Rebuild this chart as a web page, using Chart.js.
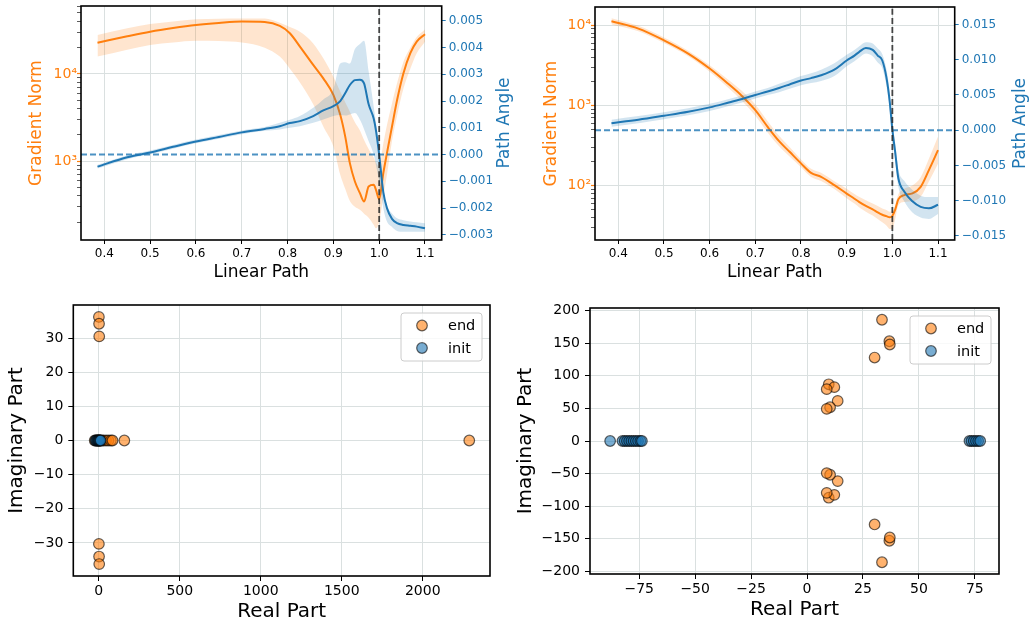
<!DOCTYPE html>
<html>
<head>
<meta charset="utf-8">
<script src="https://cdn.jsdelivr.net/npm/chart.js"></script>
<style>
    body { margin: 0; background: #fff; }
    #wrap { position: relative; width: 1036px; height: 626px; overflow: hidden; }
    canvas { position: absolute; }
</style>
</head>
<body>
<div id="wrap">
    <canvas id="path1" width="520" height="290" style="left:0;top:0"></canvas>
    <canvas id="path2" width="518" height="290" style="left:518px;top:0"></canvas>
    <canvas id="eig1" width="518" height="336" style="left:0;top:290px"></canvas>
    <canvas id="eig2" width="530" height="336" style="left:506px;top:290px"></canvas>
</div>
<script>
// top left: gradient norm / path angle along the linear path
const path1X = [0.385, 0.45, 0.5, 0.55, 0.6, 0.65, 0.7, 0.75, 0.783, 0.805, 0.827, 0.856, 0.878, 0.9, 0.915, 0.926,
    0.936, 0.947, 0.958, 0.967, 0.977, 0.988, 0.993, 1.0, 1.009, 1.017, 1.028, 1.039, 1.053, 1.068, 1.082, 1.1];
const path1Grad = [22800, 27000, 30500, 33600, 36400, 38400, 39800, 39300, 35500, 29300, 20600, 12700, 8900, 5750, 3400, 1900,
    950, 585, 430, 345, 513, 536, 470, 367, 730, 1240, 2500, 5000, 10200, 17300, 23500, 28500];
const path1GradHi = [28000, 33500, 37400, 40000, 42300, 43000, 43300, 43300, 38700, 34500, 30500, 22400, 15100, 9300, 6300, 4700,
    3700, 2800, 2250, 1750, 1380, 1100, 960, 870, 1600, 2600, 4600, 7800, 13800, 20000, 26500, 32400];
const path1GradLo = [15800, 19000, 21500, 23000, 24100, 23800, 22900, 20000, 15800, 11500, 8000, 4500, 2500, 1470, 700, 480,
    350, 300, 277, 250, 225, 187, 170, 200, 394, 700, 1700, 3300, 6800, 11500, 17300, 23400];
const path1Angle = [-0.00045, -0.0001, 0.00008, 0.00029, 0.00049, 0.00066, 0.00083, 0.00096, 0.00106, 0.00118, 0.00125, 0.00144,
    0.00165, 0.00181, 0.002, 0.0023, 0.0026, 0.00278, 0.0028, 0.00266, 0.00188, 0.00135, 0.0009, 0, -0.0014, -0.002,
    -0.0024, -0.00256, -0.00263, -0.00266, -0.00269, -0.00275];
const path1AngleHi = [-0.00038, -0.00003, 0.00015, 0.00036, 0.00056, 0.00073, 0.0009, 0.00103, 0.00119, 0.0013, 0.00144, 0.00175,
    0.00206, 0.00244, 0.0034, 0.00345, 0.0034, 0.00394, 0.00413, 0.00425, 0.0031, 0.0018, 0.0012, 0.00025, -0.00125, -0.0019,
    -0.0022, -0.00238, -0.00245, -0.0025, -0.00253, -0.00256];
const path1AngleLo = [-0.00052, -0.00017, 0.00001, 0.00022, 0.00042, 0.00059, 0.00076, 0.00089, 0.00094, 0.001, 0.00106, 0.00119,
    0.00131, 0.00144, 0.00148, 0.00146, 0.0015, 0.00155, 0.0013, 0.00095, 0.0005, 0, -0.0004, -0.001, -0.002, -0.0025,
    -0.0027, -0.00285, -0.00288, -0.00288, -0.00288, -0.00288];

// top right
const path2X = [0.385, 0.444, 0.5, 0.553, 0.6, 0.64, 0.669, 0.7, 0.727, 0.752, 0.775, 0.8, 0.822, 0.844, 0.873, 0.9, 0.917,
    0.927, 0.942, 0.957, 0.968, 0.978, 0.987, 0.994, 1.0, 1.006, 1.013, 1.026, 1.044, 1.062, 1.08, 1.1];
const path2Grad = [11200, 9100, 6500, 4440, 2890, 1880, 1345, 875, 542, 360, 265, 190, 145, 129, 102, 80, 69,
    63, 56, 50.7, 46.5, 43.5, 41.8, 40.5, 42, 50, 67.6, 76.6, 80.3, 97, 157, 278];
const path2GradHi = [12280, 9860, 7040, 4810, 3170, 2110, 1545, 1028, 637, 419, 304, 213, 163, 145, 114, 92, 79,
    73, 66, 60, 56, 52, 50, 47.5, 48, 57, 78, 92, 101, 128, 217, 411];
const path2GradLo = [10200, 8400, 6000, 4100, 2630, 1680, 1170, 745, 461, 310, 231, 170, 129, 115, 91, 70, 60,
    54, 47.5, 42.5, 38.5, 35, 32, 29, 29, 38, 57, 63, 64, 73, 113, 188];
const path2Angle = [0.001, 0.00148, 0.00205, 0.00262, 0.00324, 0.0039, 0.0044, 0.005, 0.0055, 0.006, 0.0065, 0.00705,
    0.0074, 0.0078, 0.0086, 0.0099, 0.0106, 0.0111, 0.01167, 0.0114, 0.0106, 0.0099, 0.0075, 0.0042, 0.0001, -0.003,
    -0.0068, -0.0087, -0.0101, -0.0109, -0.0111, -0.0106];
const path2AngleHi = [0.0015, 0.002, 0.00255, 0.00312, 0.00374, 0.0044, 0.0049, 0.0055, 0.006, 0.0066, 0.0071, 0.0077,
    0.0081, 0.0086, 0.0095, 0.0107, 0.0114, 0.0119, 0.0125, 0.0123, 0.0116, 0.0108, 0.0087, 0.0055, 0.0012, -0.0018,
    -0.0055, -0.0072, -0.0085, -0.0093, -0.0095, -0.0095];
const path2AngleLo = [0.0005, 0.001, 0.00155, 0.00212, 0.00274, 0.0034, 0.0039, 0.0045, 0.005, 0.0054, 0.0059, 0.0064,
    0.0067, 0.007, 0.0077, 0.0091, 0.0098, 0.0103, 0.0109, 0.0105, 0.0096, 0.0088, 0.0063, 0.003, -0.001, -0.0042,
    -0.008, -0.0101, -0.0117, -0.0124, -0.0126, -0.0119];

// bottom left: eigenvalues
const eig1EndRe = [-25, -15, -5, 2, 10, 20, 30, 45, 60, 75, 85, 158, 2287, 1, 2, 3, 1, 2, 3];
const eig1EndIm = [0, 0, 0, 0, 0, 0, 0, 0, 0, 0, 0, 0, 0, 36.2, 34.2, 30.5, -30.3, -34.0, -36.2];
const eig1InitRe = [-20, -14, -8, -4, 0, 4, 8, 12];
const eig1InitIm = [0, 0, 0, 0, 0, 0, 0, 0];

// bottom right
const eig2EndRe = [33.5, 36.8, 37.0, 30.2, 9.7, 12.2, 8.8, 13.7, 10.3, 8.8,
    33.5, 36.8, 37.0, 30.2, 9.7, 12.2, 8.8, 13.7, 10.3, 8.8];
const eig2EndIm = [186, 153, 148, 128, 87, 82.6, 79.5, 61.5, 51.8, 49.2,
    -186, -153, -148, -128, -87, -82.6, -79.5, -61.5, -51.8, -49.2];
const eig2InitRe = [-88, -82.5, -81.5, -80.5, -79.5, -78.5, -77.5, -76.5, -75.5, -74.5, -73.8,
    72.6, 73.5, 74.5, 75.5, 76.5, 77.4];
const eig2InitIm = [0, 0, 0, 0, 0, 0, 0, 0, 0, 0, 0, 0, 0, 0, 0, 0, 0];

const boundaryX = 1.0;

const orange = '#ff7f0e';
const blue = '#1f77b4';
const gridColor = '#dae0e0';
const sup = { '1': '¹', '2': '²', '3': '³', '4': '⁴', '5': '⁵' };

Chart.defaults.font.family = 'DejaVu Sans';
Chart.defaults.color = '#000';

// pin axis sizes so the plot areas land where the reference has them
const fixW = w => s => { s.width = w; s.paddingTop = 0; s.paddingBottom = 0; };
const fixH = h => s => { s.height = h; s.paddingLeft = 0; s.paddingRight = 0; };
const minus = s => s.replace('-', '\u2212');

// plain multiples of step inside the axis range
const stepTicks = step => s => {
    const ticks = [];
    for (let k = Math.ceil(s.min / step - 1e-9); k * step <= s.max + 1e-12; k++) ticks.push({ value: k * step });
    s.ticks = ticks;
};

function logTicks(scale) {
    const ticks = [];
    for (let e = 0; e <= 5; e++) {
        for (let m = 1; m <= 9; m++) {
            const v = m * Math.pow(10, e);
            if (v >= scale.min && v <= scale.max) ticks.push({ value: v, major: m === 1 });
        }
    }
    scale.ticks = ticks;
}

const frame = {
    id: 'frame',
    afterDatasetsDraw(chart) {
        const { ctx, chartArea: a } = chart;
        ctx.save();
        ctx.strokeStyle = '#000';
        ctx.lineWidth = 1.6;
        ctx.strokeRect(a.left, a.top, a.right - a.left, a.bottom - a.top);
        ctx.restore();
    }
};

// right hand axis title, reading bottom to top like the left one
const sideTitle = {
    id: 'sideTitle',
    afterDraw(chart, args, o) {
        if (!o.text) return;
        const { ctx, chartArea: a } = chart;
        ctx.save();
        ctx.translate(chart.width - o.offset, (a.top + a.bottom) / 2);
        ctx.rotate(-Math.PI / 2);
        ctx.font = o.size + 'px "DejaVu Sans"';
        ctx.fillStyle = o.color;
        ctx.textAlign = 'center';
        ctx.textBaseline = 'middle';
        ctx.fillText(o.text, 0, 0);
        ctx.restore();
    }
};

const pointLegend = {
    id: 'pointLegend',
    afterDraw(chart) {
        const { ctx, chartArea: a } = chart;
        const w = 81, h = 48;
        const x = a.right - 8 - w, y = a.top + 8;
        ctx.save();
        ctx.beginPath();
        ctx.roundRect(x, y, w, h, 3);
        ctx.fillStyle = 'rgba(255,255,255,0.8)';
        ctx.fill();
        ctx.strokeStyle = '#cccccc';
        ctx.lineWidth = 1;
        ctx.stroke();
        chart.data.datasets.forEach((ds, i) => {
            const cy = y + 12.5 + i * 22.5;
            ctx.beginPath();
            ctx.arc(x + 21, cy, ds.pointRadius, 0, Math.PI * 2);
            ctx.fillStyle = ds.backgroundColor;
            ctx.fill();
            ctx.lineWidth = ds.borderWidth;
            ctx.strokeStyle = ds.borderColor;
            ctx.stroke();
            ctx.fillStyle = '#000';
            ctx.font = '14.5px "DejaVu Sans"';
            ctx.textBaseline = 'middle';
            ctx.fillText(ds.label, x + 47, cy + 1);
        });
        ctx.restore();
    }
};

function pathChart(id, d) {
    const pts = ys => d.x.map((x, i) => ({ x, y: ys[i] }));
    const clear = 'rgba(0,0,0,0)';
    return new Chart(document.getElementById(id), {
        type: 'line',
        data: {
            datasets: [
                { data: [{ x: boundaryX, y: d.aMin }, { x: boundaryX, y: d.aMax }], yAxisID: 'y1',
                    borderColor: 'rgba(40,40,40,0.85)', borderWidth: 1.8, borderDash: [6, 3], order: 0 },
                { data: [{ x: d.xMin, y: 0 }, { x: d.xMax, y: 0 }], yAxisID: 'y1',
                    borderColor: 'rgba(31,119,180,0.8)', borderWidth: 2, borderDash: [6, 3], order: 1 },
                { data: pts(d.angle), yAxisID: 'y1', borderColor: blue, borderWidth: 2, order: 2 },
                { data: pts(d.angleHi), yAxisID: 'y1', borderColor: clear, borderWidth: 1,
                    backgroundColor: 'rgba(31,119,180,0.2)', fill: 4, order: 3 },
                { data: pts(d.angleLo), yAxisID: 'y1', borderColor: clear, borderWidth: 1, order: 4 },
                { data: pts(d.grad), yAxisID: 'y', borderColor: orange, borderWidth: 2, order: 5 },
                { data: pts(d.gradHi), yAxisID: 'y', borderColor: clear, borderWidth: 1,
                    backgroundColor: 'rgba(255,127,14,0.2)', fill: 7, order: 6 },
                { data: pts(d.gradLo), yAxisID: 'y', borderColor: clear, borderWidth: 1, order: 7 }
            ]
        },
        options: {
            responsive: false,
            animation: false,
            layout: { padding: d.pad },
            elements: { point: { radius: 0 }, line: { cubicInterpolationMode: 'monotone' } },
            plugins: {
                legend: { display: false },
                tooltip: { enabled: false },
                sideTitle: { text: 'Path Angle', color: blue, size: 17, offset: 15 }
            },
            scales: {
                x: {
                    type: 'linear', min: d.xMin, max: d.xMax,
                    border: { display: false },
                    afterBuildTicks: stepTicks(0.1),
                    grid: { color: gridColor, tickColor: '#000', tickLength: 4 },
                    ticks: { maxRotation: 0, padding: 3, font: { size: 12 }, color: '#000', callback: v => v.toFixed(1) },
                    title: { display: true, text: 'Linear Path', font: { size: 17 }, color: '#000', padding: { top: 0, bottom: 4 } },
                    afterFit: fixH(47)
                },
                y: {
                    type: 'logarithmic', position: 'left', min: d.gMin, max: d.gMax,
                    border: { display: false },
                    afterBuildTicks: logTicks,
                    grid: {
                        color: c => c.tick && c.tick.major ? gridColor : clear,
                        tickColor: c => c.tick && c.tick.major ? orange : '#333',
                        tickWidth: c => c.tick && c.tick.major ? 1.2 : 0.8,
                        tickLength: 4
                    },
                    ticks: {
                        autoSkip: false, padding: 0, font: { size: 14 }, color: orange,
                        callback: (v, i, t) => t[i].major ? '10' + sup[Math.round(Math.log10(v))] : ''
                    },
                    title: { display: true, text: 'Gradient Norm', font: { size: 17 }, color: orange },
                    afterFit: fixW(d.yW)
                },
                y1: {
                    type: 'linear', position: 'right', min: d.aMin, max: d.aMax,
                    border: { display: false },
                    afterBuildTicks: stepTicks(d.aStep),
                    grid: { drawOnChartArea: false, tickColor: blue, tickLength: 4 },
                    ticks: {
                        padding: 3, font: { size: 12 }, color: blue,
                        callback: v => minus((Math.abs(v) < 1e-12 ? 0 : v).toFixed(3))
                    },
                    afterFit: fixW(d.y1W)
                }
            }
        },
        plugins: [frame, sideTitle]
    });
}

function eigChart(id, d) {
    const pts = (re, im) => re.map((x, i) => ({ x, y: im[i] }));
    const fmt = v => minus(String(Math.round(v)));
    return new Chart(document.getElementById(id), {
        type: 'scatter',
        data: {
            datasets: [
                { label: 'end', data: pts(d.endRe, d.endIm), backgroundColor: 'rgba(255,127,14,0.6)',
                    borderColor: 'rgba(0,0,0,0.6)', borderWidth: 1.2, pointRadius: 5.3, order: 2 },
                { label: 'init', data: pts(d.initRe, d.initIm), backgroundColor: 'rgba(31,119,180,0.6)',
                    borderColor: 'rgba(0,0,0,0.6)', borderWidth: 1.2, pointRadius: 5.3, order: 1 }
            ]
        },
        options: {
            responsive: false,
            animation: false,
            layout: { padding: d.pad },
            plugins: { legend: { display: false }, tooltip: { enabled: false } },
            scales: {
                x: {
                    min: d.xMin, max: d.xMax,
                    border: { display: false },
                    afterBuildTicks: stepTicks(d.xStep),
                    grid: { color: gridColor, tickColor: '#000', tickLength: 5 },
                    ticks: { maxRotation: 0, padding: 2, font: { size: 14 }, callback: fmt },
                    title: { display: true, text: 'Real Part', font: { size: 20 }, padding: { top: 0, bottom: d.titlePad } },
                    afterFit: fixH(d.xH)
                },
                y: {
                    min: d.yMin, max: d.yMax,
                    border: { display: false },
                    afterBuildTicks: stepTicks(d.yStep),
                    grid: { color: gridColor, tickColor: '#000', tickLength: 5 },
                    ticks: { padding: 5, font: { size: 14 }, callback: fmt },
                    title: { display: true, text: 'Imaginary Part', font: { size: 20 }, padding: { top: 4, bottom: 0 } },
                    afterFit: fixW(d.yW)
                }
            }
        },
        plugins: [frame, pointLegend]
    });
}

pathChart('path1', {
    x: path1X, grad: path1Grad, gradHi: path1GradHi, gradLo: path1GradLo,
    angle: path1Angle, angleHi: path1AngleHi, angleLo: path1AngleLo,
    xMin: 0.349, xMax: 1.1365, gMin: 125, gMax: 60100, aMin: -0.00319, aMax: 0.00555, aStep: 0.001,
    pad: { left: 22, top: 6, right: 0, bottom: 3 }, yW: 59, y1W: 78.3
});

pathChart('path2', {
    x: path2X, grad: path2Grad, gradHi: path2GradHi, gradLo: path2GradLo,
    angle: path2Angle, angleHi: path2AngleHi, angleLo: path2AngleLo,
    xMin: 0.349, xMax: 1.1365, gMin: 21.1, gMax: 16900, aMin: -0.0156, aMax: 0.0175, aStep: 0.005,
    pad: { left: 19, top: 7, right: 0, bottom: 3 }, yW: 58, y1W: 81.3
});

eigChart('eig1', {
    endRe: eig1EndRe, endIm: eig1EndIm, initRe: eig1InitRe, initIm: eig1InitIm,
    xMin: -157, xMax: 2415, xStep: 500, yMin: -39.7, yMax: 39.7, yStep: 10,
    pad: { left: 1, top: 15, right: 28, bottom: 0 }, yW: 72.3, xH: 50, titlePad: 2.5
});

eigChart('eig2', {
    endRe: eig2EndRe, endIm: eig2EndIm, initRe: eig2InitRe, initIm: eig2InitIm,
    xMin: -97, xMax: 85.8, xStep: 25, yMin: -204, yMax: 204, yStep: 50,
    pad: { left: 4, top: 18, right: 37, bottom: 0 }, yW: 80, xH: 52, titlePad: 4.5
});
</script>
</body>
</html>
